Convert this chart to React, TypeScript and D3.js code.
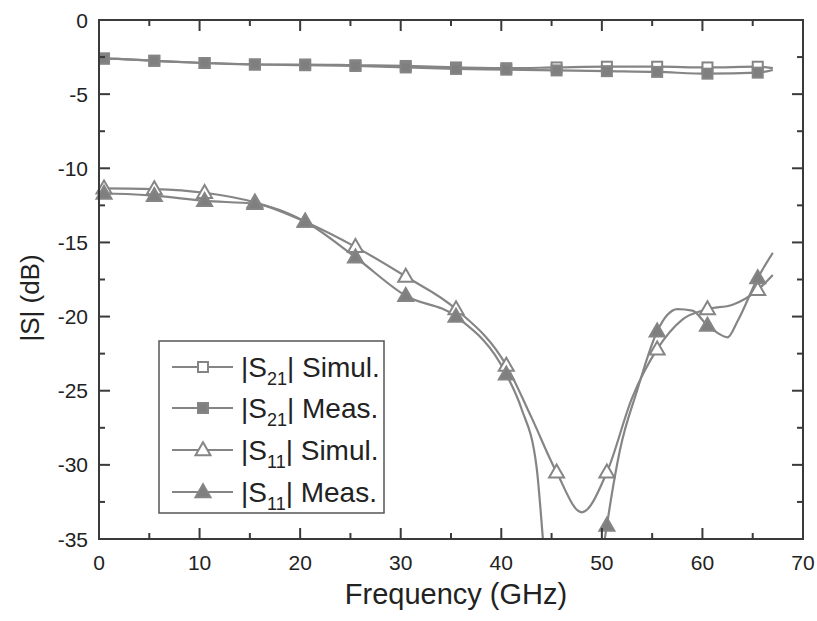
import React from "react";
import * as d3 from "d3";

const markerFreqs = [0.5, 5.5, 10.5, 15.5, 20.5, 25.5, 30.5, 35.5, 40.5, 45.5, 50.5, 55.5, 60.5, 65.5];

const s21SimFreq = [0.1, 0.5, 5.5, 10.5, 15.5, 20.5, 25.5, 30.5, 35.5, 40.5, 45.5, 50.5, 55.5, 60.5, 65.5, 67];
const s21SimVal = [-2.6, -2.6, -2.75, -2.9, -3.0, -3.0, -3.05, -3.1, -3.2, -3.25, -3.2, -3.15, -3.15, -3.2, -3.15, -3.25];

const s21MeasFreq = [0.1, 0.5, 5.5, 10.5, 15.5, 20.5, 25.5, 30.5, 35.5, 40.5, 45.5, 50.5, 55.5, 60.5, 65.5, 67];
const s21MeasVal = [-2.6, -2.6, -2.75, -2.9, -3.0, -3.05, -3.1, -3.2, -3.3, -3.35, -3.4, -3.45, -3.5, -3.62, -3.55, -3.37];

const s11SimFreq = [0.1, 0.5, 5.5, 10.5, 15.5, 20.5, 25.5, 30.5, 35.5, 40.5, 43, 45.5, 48, 50.5, 53, 55.5, 58, 60.5, 63, 65.5, 67];
const s11SimVal = [-11.35, -11.35, -11.4, -11.65, -12.3, -13.6, -15.3, -17.3, -19.5, -23.3, -26.8, -30.5, -33.2, -30.5, -25.5, -22.2, -20.2, -19.5, -19.2, -18.2, -17.2];

const s11MeasFreq = [0.1, 0.5, 5.5, 10.5, 15.5, 20.5, 25.5, 30.5, 35.5, 40.5, 42, 43.5, 44.2, 45, 47.5, 49.5, 50.1, 50.5, 51.8, 53.5, 55.5, 56.5, 57.5, 59, 60.5, 61.5, 62.5, 63.5, 65.5, 67];
const s11MeasVal = [-11.7, -11.7, -11.85, -12.2, -12.4, -13.6, -16.0, -18.6, -20.0, -23.9, -26.2, -30.1, -35.5, -42, -50, -42, -36, -34.1, -29, -25, -21.0, -19.9, -19.5, -19.6, -20.6, -21.1, -21.4, -20.3, -17.4, -15.7];

const xTicks = [0, 10, 20, 30, 40, 50, 60, 70];
const yTicks = [0, -5, -10, -15, -20, -25, -30, -35];

type Series = { name: string; sub: string; tag: string; freq: number[]; val: number[]; shape: "square" | "triangle"; filled: boolean };

const series: Series[] = [
  { name: "s21sim", sub: "21", tag: " Simul.", freq: s21SimFreq, val: s21SimVal, shape: "square", filled: false },
  { name: "s21meas", sub: "21", tag: " Meas.", freq: s21MeasFreq, val: s21MeasVal, shape: "square", filled: true },
  { name: "s11sim", sub: "11", tag: " Simul.", freq: s11SimFreq, val: s11SimVal, shape: "triangle", filled: false },
  { name: "s11meas", sub: "11", tag: " Meas.", freq: s11MeasFreq, val: s11MeasVal, shape: "triangle", filled: true },
];

const W = 817, H = 621;
const left = 99, right = 803, top = 20, bottom = 539;
const lineColor = "#858585";
const axisColor = "#3a3a3a";
const font = "'Liberation Sans', Arial, Helvetica, sans-serif";

function Marker({ shape, filled, x, y }: { shape: string; filled: boolean; x: number; y: number }) {
  const fill = filled ? "#7f7f7f" : "#ffffff";
  if (shape === "square") {
    const s = 10;
    return <rect x={x - s / 2} y={y - s / 2} width={s} height={s} fill={fill} stroke={lineColor} strokeWidth={2} />;
  }
  const s = 15;
  const h = 13;
  const pts = `${x},${y - h * 0.6} ${x - s / 2},${y + h * 0.4} ${x + s / 2},${y + h * 0.4}`;
  return <polygon points={pts} fill={fill} stroke={lineColor} strokeWidth={2} strokeLinejoin="miter" />;
}

export default function App() {
  const x = d3.scaleLinear().domain([0, 70]).range([left, right]);
  const y = d3.scaleLinear().domain([-35, 0]).range([bottom, top]);
  const line = d3
    .line<[number, number]>()
    .x((d) => x(d[0]))
    .y((d) => y(d[1]))
    .curve(d3.curveMonotoneX);

  const xMinor = d3.range(5, 70, 10);
  const yMinor = d3.range(-2.5, -35, -5);

  const legendRows = [367, 408, 450, 492];

  return (
    <svg width={W} height={H} style={{ position: "absolute", left: 0, top: 0, background: "#fff" }} fontFamily={font}>
      <defs>
        <clipPath id="plotClip">
          <rect x={left} y={top} width={right - left} height={bottom - top} />
        </clipPath>
      </defs>
      <rect x={0} y={0} width={W} height={H} fill="#ffffff" />

      {/* series lines */}
      <g clipPath="url(#plotClip)">
        {series.map((s) => (
          <path
            key={s.name}
            d={line(s.freq.map((f, i) => [f, s.val[i]] as [number, number])) || ""}
            fill="none"
            stroke={lineColor}
            strokeWidth={2.2}
          />
        ))}
      </g>
      {/* markers */}
      {series.map((s) => (
        <g key={s.name + "m"}>
          {s.freq.map((f, i) =>
            markerFreqs.includes(f) && s.val[i] >= -35 ? (
              <Marker key={i} shape={s.shape} filled={s.filled} x={x(f)} y={y(s.val[i])} />
            ) : null
          )}
        </g>
      ))}

      {/* frame */}
      <rect x={left} y={top} width={right - left} height={bottom - top} fill="none" stroke={axisColor} strokeWidth={2} />

      {/* x ticks */}
      {xTicks.map((t) => (
        <g key={"xt" + t}>
          <line x1={x(t)} x2={x(t)} y1={bottom} y2={bottom - 11} stroke={axisColor} strokeWidth={2} />
          <line x1={x(t)} x2={x(t)} y1={top} y2={top + 11} stroke={axisColor} strokeWidth={2} />
          <text x={x(t)} y={570} textAnchor="middle" fontSize={21} fill="#222">
            {t}
          </text>
        </g>
      ))}
      {xMinor.map((t) => (
        <g key={"xm" + t}>
          <line x1={x(t)} x2={x(t)} y1={bottom} y2={bottom - 6} stroke={axisColor} strokeWidth={2} />
          <line x1={x(t)} x2={x(t)} y1={top} y2={top + 6} stroke={axisColor} strokeWidth={2} />
        </g>
      ))}
      {/* y ticks */}
      {yTicks.map((t) => (
        <g key={"yt" + t}>
          <line x1={left} x2={left + 11} y1={y(t)} y2={y(t)} stroke={axisColor} strokeWidth={2} />
          <line x1={right} x2={right - 11} y1={y(t)} y2={y(t)} stroke={axisColor} strokeWidth={2} />
          <text x={88} y={y(t) + 7.5} textAnchor="end" fontSize={21} fill="#222">
            {t}
          </text>
        </g>
      ))}
      {yMinor.map((t) => (
        <g key={"ym" + t}>
          <line x1={left} x2={left + 6} y1={y(t)} y2={y(t)} stroke={axisColor} strokeWidth={2} />
          <line x1={right} x2={right - 6} y1={y(t)} y2={y(t)} stroke={axisColor} strokeWidth={2} />
        </g>
      ))}

      {/* axis titles */}
      <text x={456} y={604} textAnchor="middle" fontSize={29} fill="#222">
        Frequency (GHz)
      </text>
      <text transform="translate(39,298) rotate(-90)" textAnchor="middle" fontSize={26} fill="#222">
        |S| (dB)
      </text>

      {/* legend */}
      <rect x={159} y={341} width={225} height={172} fill="#ffffff" stroke="#555" strokeWidth={1.5} />
      {series.map((s, i) => {
        const cy = legendRows[i];
        return (
          <g key={"lg" + s.name}>
            <line x1={172} x2={233} y1={cy} y2={cy} stroke={lineColor} strokeWidth={2.2} />
            <Marker shape={s.shape} filled={s.filled} x={203} y={cy} />
            <text x={241} y={cy + 10} fontSize={28} fill="#222">
              |S
              <tspan fontSize={18} dy={8}>
                {s.sub}
              </tspan>
              <tspan dy={-8}>|{s.tag}</tspan>
            </text>
          </g>
        );
      })}
    </svg>
  );
}
